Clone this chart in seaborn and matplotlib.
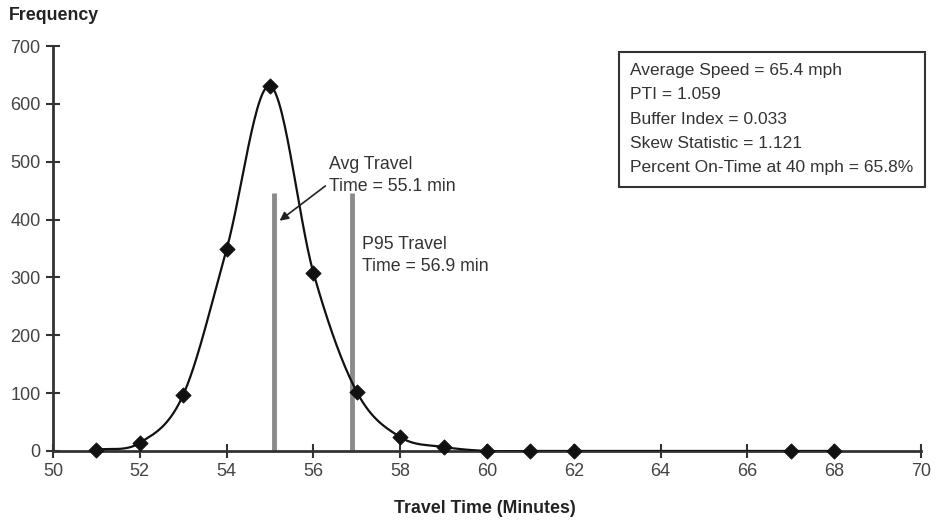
import numpy as np
import pandas as pd
import matplotlib
matplotlib.use("Agg")
import matplotlib.pyplot as plt
import seaborn as sns

# ---- data ----
travel_time = [51, 52, 53, 54, 55, 56, 57, 58, 59, 60, 61, 62, 67, 68]
frequency = [2, 14, 97, 349, 631, 308, 102, 24, 7, 0, 0, 0, 0, 0]
ref_times = [55.1, 56.9]
ref_heights = [446, 446]
x_ticks = [50, 52, 54, 56, 58, 60, 62, 64, 66, 68, 70]
y_ticks = [0, 100, 200, 300, 400, 500, 600, 700]
stats_lines = ["Average Speed = 65.4 mph", "PTI = 1.059", "Buffer Index = 0.033",
               "Skew Statistic = 1.121", "Percent On-Time at 40 mph = 65.8%"]
avg_label = "Avg Travel\nTime = 55.1 min"
p95_label = "P95 Travel\nTime = 56.9 min"


def catmull_rom(x, y, n=30):
    x = np.asarray(x, float); y = np.asarray(y, float)
    px = np.concatenate([[2 * x[0] - x[1]], x, [2 * x[-1] - x[-2]]])
    py = np.concatenate([[2 * y[0] - y[1]], y, [2 * y[-1] - y[-2]]])
    xs, ys = [], []
    for i in range(1, len(px) - 2):
        t = np.linspace(0, 1, n, endpoint=False)
        for P, out in ((px, xs), (py, ys)):
            p0, p1, p2, p3 = P[i - 1], P[i], P[i + 1], P[i + 2]
            out.extend(0.5 * ((2 * p1) + (-p0 + p2) * t +
                              (2 * p0 - 5 * p1 + 4 * p2 - p3) * t ** 2 +
                              (-p0 + 3 * p1 - 3 * p2 + p3) * t ** 3))
    xs.append(x[-1]); ys.append(y[-1])
    return np.array(xs), np.array(ys)


sns.set_theme(style="white")
plt.rcParams['font.family'] = ['Liberation Sans', 'DejaVu Sans']

fig = plt.figure(figsize=(9.38, 5.23), dpi=100)
ax = fig.add_axes([0.0565, 0.1377, 0.9255, 0.7743])

sx, sy = catmull_rom(travel_time, frequency)
curve = pd.DataFrame({"x": sx, "y": sy})
pts = pd.DataFrame({"x": travel_time, "y": frequency})

ax.vlines(ref_times, 0, ref_heights, color="#8a8a8a", linewidth=3.5, zorder=2)
sns.lineplot(data=curve, x="x", y="y", ax=ax, color="#111111", linewidth=1.6,
             sort=False, estimator=None, zorder=3)
sns.scatterplot(data=pts, x="x", y="y", ax=ax, marker="D", s=60, color="#111111",
                edgecolor="#111111", zorder=4, clip_on=False)

ax.set_xlim(50, 70)
ax.set_ylim(0, 700)
ax.set_xticks(x_ticks)
ax.set_yticks(y_ticks)
ax.tick_params(axis="both", direction="inout", length=10, width=1.5, color="#333333",
               labelsize=13, labelcolor="#444444", bottom=True, left=True, pad=4)
for s in ["top", "right"]:
    ax.spines[s].set_visible(False)
for s in ["left", "bottom"]:
    ax.spines[s].set_color("#333333")
    ax.spines[s].set_linewidth(2)
ax.set_xlabel("")
ax.set_ylabel("")

fig.text(0.009, 0.97, "Frequency", fontsize=12.8, fontweight="bold", color="#222222",
         va="center", ha="left")
fig.text(0.517, 0.028, "Travel Time (Minutes)", fontsize=12.8, fontweight="bold",
         color="#222222", ha="center", va="center")

ax.annotate(avg_label, xy=(55.22, 398), xytext=(56.35, 476), fontsize=12.8,
            color="#333333", va="center", ha="left", linespacing=1.4,
            arrowprops=dict(arrowstyle="-|>", color="#222222", lw=1.2,
                            shrinkA=0, shrinkB=0, relpos=(0, 0.3)))
ax.text(57.13, 338, p95_label, fontsize=12.8, color="#333333", va="center", ha="left",
        linespacing=1.45)

ax.text(0.665, 0.958, "\n".join(stats_lines), transform=ax.transAxes, fontsize=12.5,
        color="#333333", va="top", ha="left", linespacing=1.78,
        bbox=dict(boxstyle="square,pad=0.65", facecolor="white", edgecolor="#333333",
                  linewidth=1.5))

fig.savefig("out.png", dpi=100)
